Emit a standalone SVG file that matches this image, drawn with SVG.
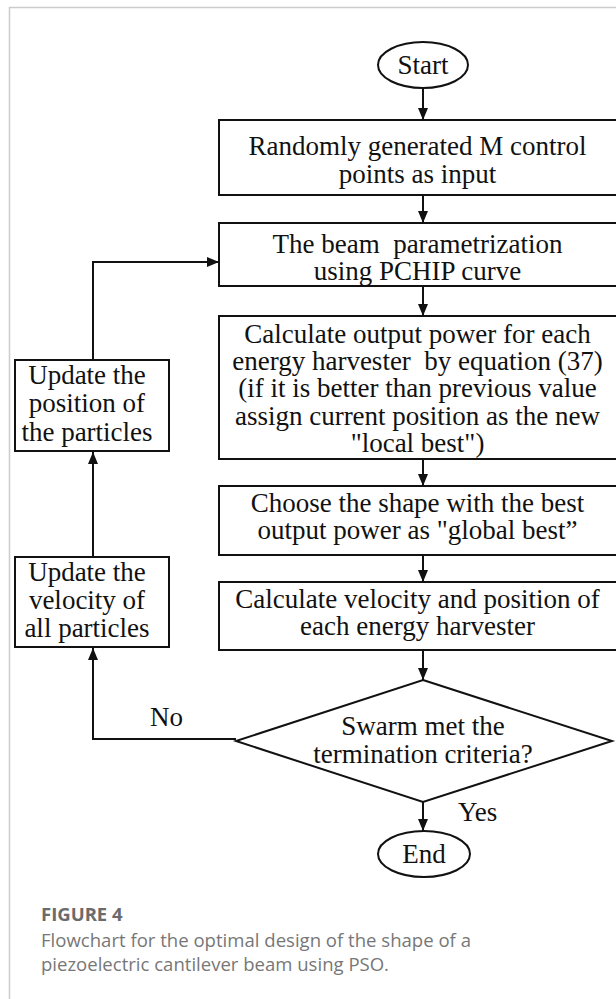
<svg xmlns="http://www.w3.org/2000/svg" width="616" height="999" viewBox="0 0 616 999">
<style>
.frame{stroke:#cccccc;stroke-width:1.5;fill:none}
.box{fill:#ffffff;stroke:#111111;stroke-width:2}
.t{font-family:"Liberation Serif","Times New Roman",serif;font-size:27px;fill:#111111;text-anchor:middle;white-space:pre}
.lbl{font-family:"Liberation Serif","Times New Roman",serif;font-size:27px;fill:#111111}
.conn{fill:none;stroke:#111111;stroke-width:2}
.cap{font-family:"Open Sans","Noto Sans",sans-serif;font-size:18.5px;fill:#777777}
.capb{font-family:"Open Sans","Noto Sans",sans-serif;font-size:18.5px;font-weight:bold;fill:#6b6b6b}
</style>
<defs>
<marker id="arr" viewBox="0 0 12 10" markerWidth="12" markerHeight="10" refX="12" refY="5" orient="auto" markerUnits="userSpaceOnUse">
<path d="M0,0 L12,5 L0,10 z" fill="#111111"/>
</marker>
</defs>
<rect width="616" height="999" fill="#ffffff"/>
<path class="frame" d="M9.5,999 L9.5,7.5 L616,7.5"/>

<g id="connectors">
<line class="conn" x1="423" y1="88" x2="423" y2="120" marker-end="url(#arr)"/>
<line class="conn" x1="423" y1="195" x2="423" y2="223" marker-end="url(#arr)"/>
<line class="conn" x1="423" y1="286" x2="423" y2="316" marker-end="url(#arr)"/>
<line class="conn" x1="423" y1="459" x2="423" y2="486" marker-end="url(#arr)"/>
<line class="conn" x1="423" y1="555" x2="423" y2="582" marker-end="url(#arr)"/>
<line class="conn" x1="423" y1="650" x2="423" y2="680" marker-end="url(#arr)"/>
<line class="conn" x1="423" y1="802" x2="423" y2="831" marker-end="url(#arr)"/>
<polyline class="conn" points="236,739 93,739 93,648" marker-end="url(#arr)"/>
<line class="conn" x1="93" y1="557" x2="93" y2="452" marker-end="url(#arr)"/>
<polyline class="conn" points="93,360 93,262 219,262" marker-end="url(#arr)"/>
<text class="lbl" x="150" y="726">No</text>
<text class="lbl" x="458" y="821">Yes</text>
</g>

<g id="start">
<ellipse class="box" cx="423" cy="65" rx="45" ry="23"/>
<text class="t" x="423" y="74">Start</text>
</g>

<g id="init">
<rect class="box" x="219" y="120" width="410" height="75"/>
<text class="t" x="417.5" y="155">Randomly generated M control</text>
<text class="t" x="417.5" y="183">points as input</text>
</g>

<g id="param">
<rect class="box" x="219" y="223" width="410" height="63"/>
<text class="t" x="417.5" y="253">The beam  parametrization</text>
<text class="t" x="417.5" y="280">using PCHIP curve</text>
</g>

<g id="power">
<rect class="box" x="219" y="316" width="410" height="143"/>
<text class="t" x="417.5" y="343">Calculate output power for each</text>
<text class="t" x="417.5" y="370">energy harvester  by equation (37)</text>
<text class="t" x="417.5" y="397">(if it is better than previous value</text>
<text class="t" x="417.5" y="425">assign current position as the new</text>
<text class="t" x="417.5" y="452">"local best")</text>
</g>

<g id="global">
<rect class="box" x="219" y="486" width="410" height="69"/>
<text class="t" x="417.5" y="512">Choose the shape with the best</text>
<text class="t" x="417.5" y="539">output power as "global best”</text>
</g>

<g id="velocity">
<rect class="box" x="219" y="582" width="410" height="68"/>
<text class="t" x="417.5" y="608">Calculate velocity and position of</text>
<text class="t" x="417.5" y="635">each energy harvester</text>
</g>

<g id="decision">
<polygon class="box" points="423,680 612,741 423,802 236,741"/>
<text class="t" x="423" y="735">Swarm met the</text>
<text class="t" x="423" y="763">termination criteria?</text>
</g>

<g id="end">
<ellipse class="box" cx="424" cy="854" rx="46" ry="23"/>
<text class="t" x="424" y="863">End</text>
</g>

<g id="updpos">
<rect class="box" x="15" y="360" width="154" height="91"/>
<text class="t" x="87" y="384">Update the</text>
<text class="t" x="87" y="412">position of</text>
<text class="t" x="87" y="441">the particles</text>
</g>

<g id="updvel">
<rect class="box" x="15" y="557" width="154" height="90"/>
<text class="t" x="87" y="581">Update the</text>
<text class="t" x="87" y="609">velocity of</text>
<text class="t" x="87" y="637">all particles</text>
</g>

<g id="caption">
<text class="capb" x="41" y="921">FIGURE 4</text>
<text class="cap" x="41" y="947" textLength="430" lengthAdjust="spacingAndGlyphs">Flowchart for the optimal design of the shape of a</text>
<text class="cap" x="41" y="971" textLength="348" lengthAdjust="spacingAndGlyphs">piezoelectric cantilever beam using PSO.</text>
</g>
</svg>
